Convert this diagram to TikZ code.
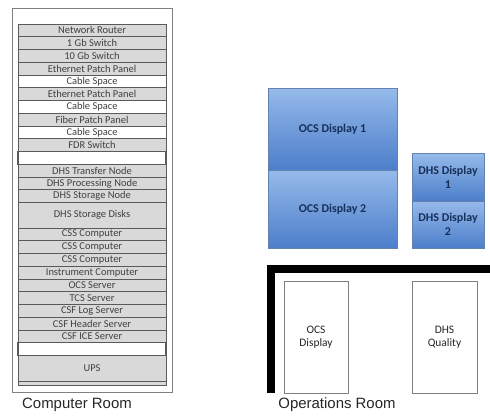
\documentclass[tikz,border=0pt]{standalone}
\usepackage{fontspec}
\newfontfamily\calfont{Carlito}
\newfontfamily\labfont{Liberation Sans}
\usetikzlibrary{positioning}
\definecolor{rackgrey}{RGB}{217,217,217}
\definecolor{rackline}{RGB}{90,90,90}
\definecolor{racktext}{RGB}{64,64,64}
\definecolor{framegrey}{RGB}{128,128,128}
\definecolor{bluetop}{RGB}{150,186,234}
\definecolor{bluebot}{RGB}{76,126,202}
\definecolor{blueedge}{RGB}{100,130,175}
\definecolor{navytext}{RGB}{23,48,90}
\tikzset{
  dev/.style={draw=rackline, line width=0.8bp, fill=rackgrey, text=racktext,
    minimum width=148bp, minimum height=12.75bp, inner sep=0pt, outer sep=0pt,
    font=\calfont\fontsize{10.5}{12}\selectfont},
  devtwo/.style={dev, minimum height=25.5bp},
  gap/.style={dev, fill=white},
  screen/.style={draw=blueedge, line width=0.6bp, top color=bluetop, bottom color=bluebot,
    inner sep=0pt, outer sep=0pt, text=navytext, align=center,
    font=\calfont\bfseries\fontsize{12}{14}\selectfont},
  desk/.style={draw=framegrey, line width=0.8bp, fill=white, inner sep=0pt, outer sep=0pt,
    minimum width=64bp, minimum height=112bp, align=center, text=black!85,
    font=\calfont\fontsize{11.5}{13.5}\selectfont},
  roomlabel/.style={font=\labfont\fontsize{15}{17}\selectfont, text=black!85}
}
\begin{document}
\begin{tikzpicture}[x=1bp, y=-1bp]
\useasboundingbox (0,0) rectangle (490,415);

% computer room frame
\node[draw=framegrey, line width=0.8bp, minimum width=160bp, minimum height=383.5bp,
  anchor=north west, inner sep=0pt, outer sep=0pt] (cr) at (12,8.5) {};

% rack contents, top to bottom
\node[dev, anchor=north west] (r1) at (18,24) {Network Router};
\node[dev, below=0pt of r1] (r2) {1 Gb Switch};
\node[dev, below=0pt of r2] (r3) {10 Gb Switch};
\node[dev, below=0pt of r3] (r4) {Ethernet Patch Panel};
\node[gap, below=0pt of r4] (r5) {Cable Space};
\node[dev, below=0pt of r5] (r6) {Ethernet Patch Panel};
\node[gap, below=0pt of r6] (r7) {Cable Space};
\node[dev, below=0pt of r7] (r8) {Fiber Patch Panel};
\node[gap, below=0pt of r8] (r9) {Cable Space};
\node[dev, below=0pt of r9] (r10) {FDR Switch};
\node[gap, below=0pt of r10, line width=1.2bp] (r11) {};
\node[dev, below=0pt of r11] (r12) {DHS Transfer Node};
\node[dev, below=0pt of r12] (r13) {DHS Processing Node};
\node[dev, below=0pt of r13] (r14) {DHS Storage Node};
\node[devtwo, below=0pt of r14] (r15) {DHS Storage Disks};
\node[dev, below=0pt of r15] (r16) {CSS Computer};
\node[dev, below=0pt of r16] (r17) {CSS Computer};
\node[dev, below=0pt of r17] (r18) {CSS Computer};
\node[dev, below=0pt of r18] (r19) {Instrument Computer};
\node[dev, below=0pt of r19] (r20) {OCS Server};
\node[dev, below=0pt of r20] (r21) {TCS Server};
\node[dev, below=0pt of r21] (r22) {CSF Log Server};
\node[dev, below=0pt of r22] (r23) {CSF Header Server};
\node[dev, below=0pt of r23] (r24) {CSF ICE Server};
\node[gap, below=0pt of r24, line width=1.2bp] (r25) {};
\node[devtwo, below=0pt of r25] (r26) {UPS};
\node[dev, below=0pt of r26, minimum height=4.5bp] (r27) {};

\node[roomlabel] (crlabel) at (77,405) {Computer Room};

% operations room: wall
\draw[line width=8bp, line join=miter] (271,393) -- (271,269) -- (490,269);

% wall displays
\node[screen, minimum width=129bp, minimum height=82bp, anchor=north west] (ocs1) at (268,88) {OCS Display 1};
\node[screen, minimum width=129bp, minimum height=78bp, below=0pt of ocs1] (ocs2) {OCS Display 2};
\node[screen, minimum width=72bp, minimum height=48bp, anchor=north west] (dhs1) at (412,153) {DHS Display\\1};
\node[screen, minimum width=72bp, minimum height=47bp, below=0pt of dhs1] (dhs2) {DHS Display\\2};

% desks
\node[desk, anchor=north west] (ocsdesk) at (284,281) {OCS\\Display};
\node[desk, anchor=north west, minimum width=65bp] (dhsdesk) at (412,281) {DHS\\Quality};

\node[roomlabel] (oplabel) at (337,405) {Operations Room};
\end{tikzpicture}
\end{document}
